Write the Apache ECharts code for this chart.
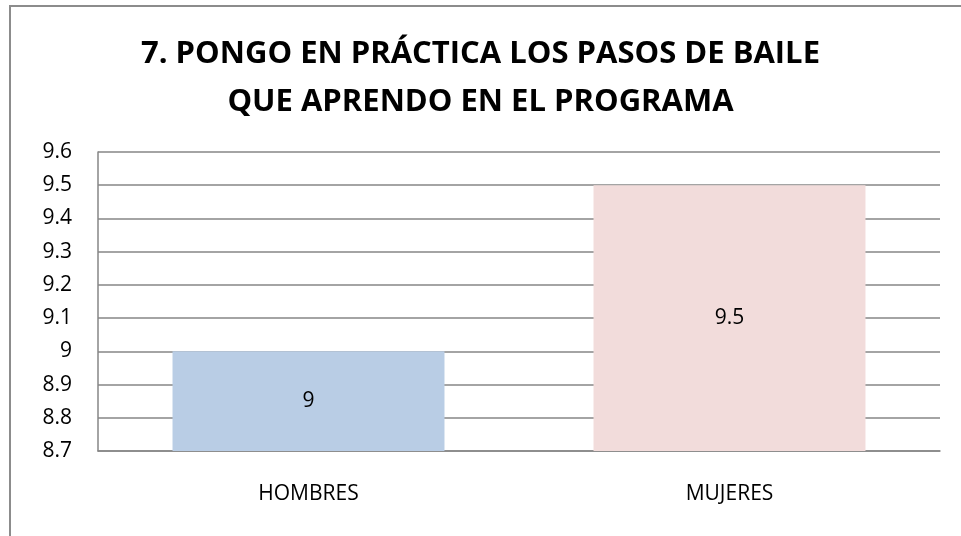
<!DOCTYPE html>
<html>
<head>
<meta charset="utf-8">
<script src="https://cdn.jsdelivr.net/npm/echarts@6/dist/echarts.min.js"></script>
<style>
  html, body { margin: 0; padding: 0; background: #fff; }
  #chart { width: 961px; height: 536px; }
</style>
</head>
<body>
<div id="chart"></div>
<script>
  var titulo = '7. PONGO EN PRÁCTICA LOS PASOS DE BAILE\nQUE APRENDO EN EL PROGRAMA';
  var categorias = ['HOMBRES', 'MUJERES'];
  var valores = [9, 9.5];
  var colores = ['#b9cde5', '#f2dcdb'];
  var yMin = 8.7, yMax = 9.6, yPaso = 0.1;

  var myChart = echarts.init(document.getElementById('chart'));
  var fuente = "'Open Sans', sans-serif";
  var option = {
    backgroundColor: '#fff',
    animation: false,
    title: {
      text: titulo,
      left: 'center',
      top: 25,
      textStyle: { fontFamily: fuente, fontWeight: 'bold', fontSize: 31, lineHeight: 48, color: '#000' }
    },
    graphic: [{
      type: 'rect',
      shape: { x: 10, y: 6, width: 1000, height: 600 },
      style: { fill: 'none', stroke: '#8c8c8c', lineWidth: 2 },
      silent: true
    }],
    grid: { left: 98, right: 21, top: 152, bottom: 85 },
    xAxis: {
      type: 'category',
      data: categorias,
      axisTick: { show: false },
      axisLine: { lineStyle: { color: '#868686', width: 1.5 } },
      axisLabel: { fontFamily: fuente, fontSize: 21, color: '#000', margin: 33 }
    },
    yAxis: {
      type: 'value',
      min: yMin,
      max: yMax,
      interval: yPaso,
      axisLine: { show: true, lineStyle: { color: '#868686', width: 1.5 } },
      axisTick: { show: false },
      splitLine: { lineStyle: { color: '#868686', width: 1.5 } },
      axisLabel: { fontFamily: fuente, fontSize: 21, color: '#000', margin: 26 }
    },
    series: [{
      type: 'bar',
      barWidth: '64.6%',
      data: valores.map(function (v, i) { return { value: v, itemStyle: { color: colores[i] } }; }),
      label: { show: true, position: 'inside', fontFamily: fuente, fontSize: 21, color: '#000' }
    }]
  };
  myChart.setOption(option, true);
</script>
</body>
</html>
